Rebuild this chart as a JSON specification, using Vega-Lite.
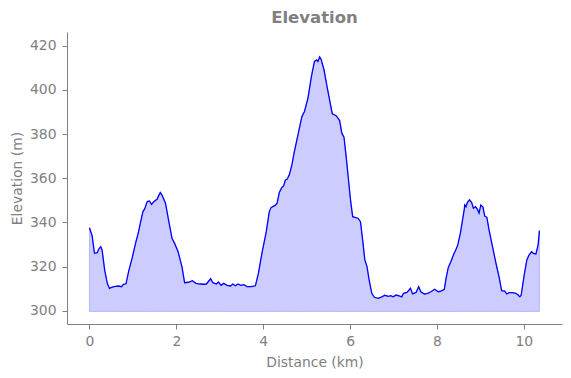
{
  "$schema": "https://vega.github.io/schema/vega-lite/v6.json",
  "autosize": {"type": "none"},
  "padding": {"left": 67, "top": 32, "right": 9, "bottom": 54},
  "width": 495,
  "height": 292,
  "background": "white",
  "title": {"text": "Elevation", "fontSize": 16.5, "fontWeight": "bold", "color": "#808080", "font": "DejaVu Sans", "anchor": "middle", "offset": 6},
  "config": {
    "view": {"stroke": null},
    "axis": {"grid": false, "domainColor": "#808080", "tickColor": "#808080", "labelColor": "#808080", "titleColor": "#808080", "labelFont": "DejaVu Sans", "titleFont": "DejaVu Sans", "labelFontSize": 13.9, "titleFontSize": 13.9, "titleFontWeight": "normal", "tickSize": 5, "labelPadding": 5, "domainWidth": 1}
  },
  "data": {"values": [
    {"km": 0, "m": 337.6}, {"km": 0.06, "m": 334}, {"km": 0.115, "m": 326}, {"km": 0.18, "m": 326.3}, {"km": 0.21, "m": 327.8}, {"km": 0.26, "m": 329}, {"km": 0.29, "m": 327.5}, {"km": 0.35, "m": 318.4}, {"km": 0.41, "m": 312.4}, {"km": 0.46, "m": 310.1}, {"km": 0.52, "m": 310.7}, {"km": 0.6, "m": 311}, {"km": 0.67, "m": 311.2}, {"km": 0.74, "m": 310.9}, {"km": 0.78, "m": 312}, {"km": 0.84, "m": 312.2}, {"km": 0.9, "m": 317.7}, {"km": 0.98, "m": 323.7}, {"km": 1.06, "m": 330.5}, {"km": 1.13, "m": 335.8}, {"km": 1.17, "m": 339.6}, {"km": 1.23, "m": 344.9}, {"km": 1.27, "m": 346.1}, {"km": 1.33, "m": 349.4}, {"km": 1.38, "m": 349.7}, {"km": 1.43, "m": 348.2}, {"km": 1.48, "m": 349.4}, {"km": 1.56, "m": 350.6}, {"km": 1.59, "m": 352}, {"km": 1.63, "m": 353.5}, {"km": 1.67, "m": 352.4}, {"km": 1.75, "m": 348.7}, {"km": 1.82, "m": 341.1}, {"km": 1.9, "m": 332.8}, {"km": 1.96, "m": 330.5}, {"km": 2.04, "m": 326.7}, {"km": 2.13, "m": 319.9}, {"km": 2.19, "m": 312.7}, {"km": 2.28, "m": 312.9}, {"km": 2.37, "m": 313.6}, {"km": 2.45, "m": 312.4}, {"km": 2.55, "m": 312.1}, {"km": 2.65, "m": 312}, {"km": 2.69, "m": 312.1}, {"km": 2.79, "m": 314.5}, {"km": 2.84, "m": 312.7}, {"km": 2.92, "m": 312.1}, {"km": 2.97, "m": 313}, {"km": 3.03, "m": 311.5}, {"km": 3.09, "m": 312.4}, {"km": 3.17, "m": 311.5}, {"km": 3.25, "m": 311.2}, {"km": 3.3, "m": 312.1}, {"km": 3.36, "m": 311.3}, {"km": 3.42, "m": 312.1}, {"km": 3.48, "m": 311.5}, {"km": 3.56, "m": 311.8}, {"km": 3.63, "m": 310.9}, {"km": 3.72, "m": 310.9}, {"km": 3.82, "m": 311.3}, {"km": 3.89, "m": 317}, {"km": 3.97, "m": 326}, {"km": 4.07, "m": 335.8}, {"km": 4.14, "m": 344.9}, {"km": 4.18, "m": 346.7}, {"km": 4.28, "m": 347.8}, {"km": 4.32, "m": 348.7}, {"km": 4.37, "m": 353.5}, {"km": 4.43, "m": 355.8}, {"km": 4.47, "m": 356.5}, {"km": 4.51, "m": 359.2}, {"km": 4.55, "m": 359.5}, {"km": 4.6, "m": 361.5}, {"km": 4.66, "m": 366}, {"km": 4.71, "m": 371.4}, {"km": 4.8, "m": 379.6}, {"km": 4.89, "m": 387.9}, {"km": 4.95, "m": 390.2}, {"km": 5.03, "m": 396.3}, {"km": 5.11, "m": 406.1}, {"km": 5.18, "m": 412.9}, {"km": 5.23, "m": 413.6}, {"km": 5.26, "m": 412.9}, {"km": 5.3, "m": 414.9}, {"km": 5.33, "m": 414}, {"km": 5.4, "m": 409.1}, {"km": 5.47, "m": 401.5}, {"km": 5.55, "m": 393.3}, {"km": 5.59, "m": 389.2}, {"km": 5.68, "m": 388.3}, {"km": 5.76, "m": 386.1}, {"km": 5.81, "m": 380.4}, {"km": 5.86, "m": 378.6}, {"km": 5.91, "m": 369.8}, {"km": 5.96, "m": 360}, {"km": 6.01, "m": 350.2}, {"km": 6.06, "m": 342.6}, {"km": 6.11, "m": 342.3}, {"km": 6.18, "m": 341.9}, {"km": 6.24, "m": 340.3}, {"km": 6.29, "m": 332}, {"km": 6.34, "m": 323}, {"km": 6.39, "m": 320}, {"km": 6.44, "m": 313.9}, {"km": 6.5, "m": 307.9}, {"km": 6.56, "m": 306.1}, {"km": 6.65, "m": 305.6}, {"km": 6.73, "m": 306.3}, {"km": 6.8, "m": 307}, {"km": 6.88, "m": 306.5}, {"km": 6.94, "m": 306.8}, {"km": 6.99, "m": 306.3}, {"km": 7.06, "m": 307.1}, {"km": 7.13, "m": 306.7}, {"km": 7.19, "m": 306.3}, {"km": 7.23, "m": 307.9}, {"km": 7.31, "m": 308.3}, {"km": 7.39, "m": 310.2}, {"km": 7.44, "m": 307.6}, {"km": 7.52, "m": 308.3}, {"km": 7.58, "m": 310.9}, {"km": 7.63, "m": 308.6}, {"km": 7.71, "m": 307.6}, {"km": 7.79, "m": 307.9}, {"km": 7.86, "m": 308.6}, {"km": 7.95, "m": 309.7}, {"km": 8.03, "m": 308.6}, {"km": 8.09, "m": 308.9}, {"km": 8.17, "m": 309.7}, {"km": 8.21, "m": 314.7}, {"km": 8.26, "m": 319.5}, {"km": 8.32, "m": 322.2}, {"km": 8.38, "m": 325.2}, {"km": 8.44, "m": 327.8}, {"km": 8.48, "m": 329.8}, {"km": 8.54, "m": 335.1}, {"km": 8.59, "m": 341.1}, {"km": 8.63, "m": 346}, {"km": 8.64, "m": 347.9}, {"km": 8.67, "m": 347.1}, {"km": 8.7, "m": 349}, {"km": 8.75, "m": 350.2}, {"km": 8.8, "m": 349}, {"km": 8.84, "m": 346.4}, {"km": 8.89, "m": 347.1}, {"km": 8.93, "m": 346}, {"km": 8.97, "m": 344.2}, {"km": 9.01, "m": 347.9}, {"km": 9.06, "m": 346.9}, {"km": 9.1, "m": 342.9}, {"km": 9.15, "m": 342.3}, {"km": 9.2, "m": 336.6}, {"km": 9.28, "m": 329}, {"km": 9.36, "m": 321.5}, {"km": 9.43, "m": 315.4}, {"km": 9.49, "m": 309.1}, {"km": 9.56, "m": 308.9}, {"km": 9.61, "m": 307.6}, {"km": 9.66, "m": 308.2}, {"km": 9.74, "m": 308.2}, {"km": 9.82, "m": 307.9}, {"km": 9.87, "m": 307.1}, {"km": 9.91, "m": 306.3}, {"km": 9.94, "m": 307.1}, {"km": 10.01, "m": 316.2}, {"km": 10.07, "m": 323}, {"km": 10.12, "m": 325.2}, {"km": 10.18, "m": 326.7}, {"km": 10.22, "m": 326}, {"km": 10.28, "m": 325.7}, {"km": 10.33, "m": 329.8}, {"km": 10.36, "m": 336.3}
  ]},
  "encoding": {
    "x": {"field": "km", "type": "quantitative", "title": "Distance (km)", "scale": {"domain": [-0.518, 10.88], "nice": false, "zero": false}, "axis": {"values": [0, 2, 4, 6, 8, 10], "titlePadding": 8}},
    "y": {"field": "m", "type": "quantitative", "title": "Elevation (m)", "scale": {"domain": [294, 426.2], "nice": false, "zero": false}, "axis": {"values": [300, 320, 340, 360, 380, 400, 420], "titlePadding": 5, "labelPadding": 6}}
  },
  "layer": [
    {"mark": {"type": "area", "color": "#0000ff", "fillOpacity": 0.2, "stroke": "#0000ff", "strokeOpacity": 0.2, "strokeWidth": 1}, "encoding": {"y2": {"datum": 299.7}}},
    {"mark": {"type": "line", "color": "#0000ff", "strokeWidth": 1.3}}
  ]
}
